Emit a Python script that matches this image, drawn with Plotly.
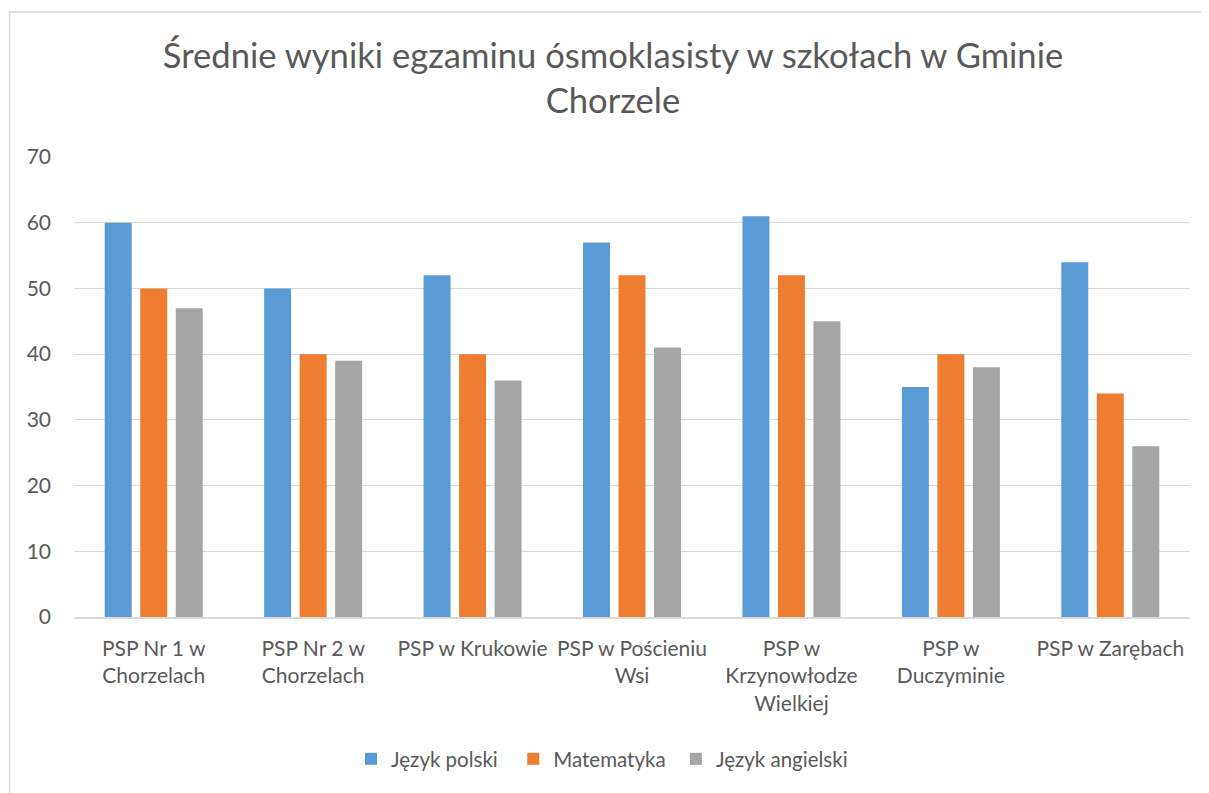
import plotly.graph_objects as go

categories = [
    "PSP Nr 1 w<br>Chorzelach",
    "PSP Nr 2 w<br>Chorzelach",
    "PSP w Krukowie",
    "PSP w Pościeniu<br>Wsi",
    "PSP w<br>Krzynowłodze<br>Wielkiej",
    "PSP w<br>Duczyminie",
    "PSP w Zarębach",
]
jezyk_polski = [60, 50, 52, 57, 61, 35, 54]
matematyka = [50, 40, 40, 52, 52, 40, 34]
jezyk_angielski = [47, 39, 36, 41, 45, 38, 26]
series_names = ["Język polski", "Matematyka", "Język angielski"]
colors = ["#5B9BD5", "#ED7D31", "#A5A5A5"]
y_ticks = [0, 10, 20, 30, 40, 50, 60, 70]

FONT = "Lato"
TXT = "#595959"

# page body has an 8px margin; figure is sized to fit the window
W, H = 1201, 785
L, R, T, B = 66, 19, 149, 176
PH = H - T - B
PW = W - L - R

# trailing non-breaking spaces widen the gap between legend entries
legend_pad = ["\u00a0\u00a0", "\u00a0", ""]

fig = go.Figure()
for name, vals, col, pad in zip(series_names, [jezyk_polski, matematyka, jezyk_angielski],
                                colors, legend_pad):
    fig.add_trace(go.Bar(x=categories, y=vals, name=name + pad, marker_color=col,
                         marker_line_width=0))

fig.update_layout(
    width=W, height=H,
    paper_bgcolor="white", plot_bgcolor="white",
    margin=dict(l=L, r=R, t=T, b=B, autoexpand=False),
    barmode="group", bargap=0.332, bargroupgap=0.24,
    font=dict(family=FONT, color=TXT, size=18),
    title=dict(text="Średnie wyniki egzaminu ósmoklasisty w szkołach w Gminie<br>Chorzele",
               x=605 / W, xanchor="center", xref="container", y=1 - 60 / H, yanchor="top",
               font=dict(family=FONT, size=34.6, color=TXT)),
    legend=dict(orientation="h", x=0.5 - 30 / PW, xanchor="center", y=-122 / PH, yanchor="top",
                font=dict(family=FONT, size=20.5, color=TXT), itemwidth=30,
                traceorder="normal"),
    showlegend=True,
)
fig.update_yaxes(range=[0, 70], tickvals=y_ticks, showgrid=True, gridcolor="#D9D9D9",
                 gridwidth=1, zeroline=False, showline=False, ticks="", automargin=False,
                 ticklabelstandoff=22, tickfont=dict(size=21, color=TXT))
fig.update_xaxes(showline=True, linecolor="#D9D9D9", linewidth=1.5, ticks="", automargin=False,
                 ticklabelstandoff=12, tickfont=dict(size=21, color=TXT), tickangle=0)
fig.add_shape(type="rect", xref="paper", yref="paper",
              x0=(1.5 - L) / PW, x1=1.2, y0=-0.5, y1=(PH + T - 4) / PH,
              line=dict(color="#D9D9D9", width=1.5), fillcolor="rgba(0,0,0,0)", layer="below")
fig.write_html("out.html")
